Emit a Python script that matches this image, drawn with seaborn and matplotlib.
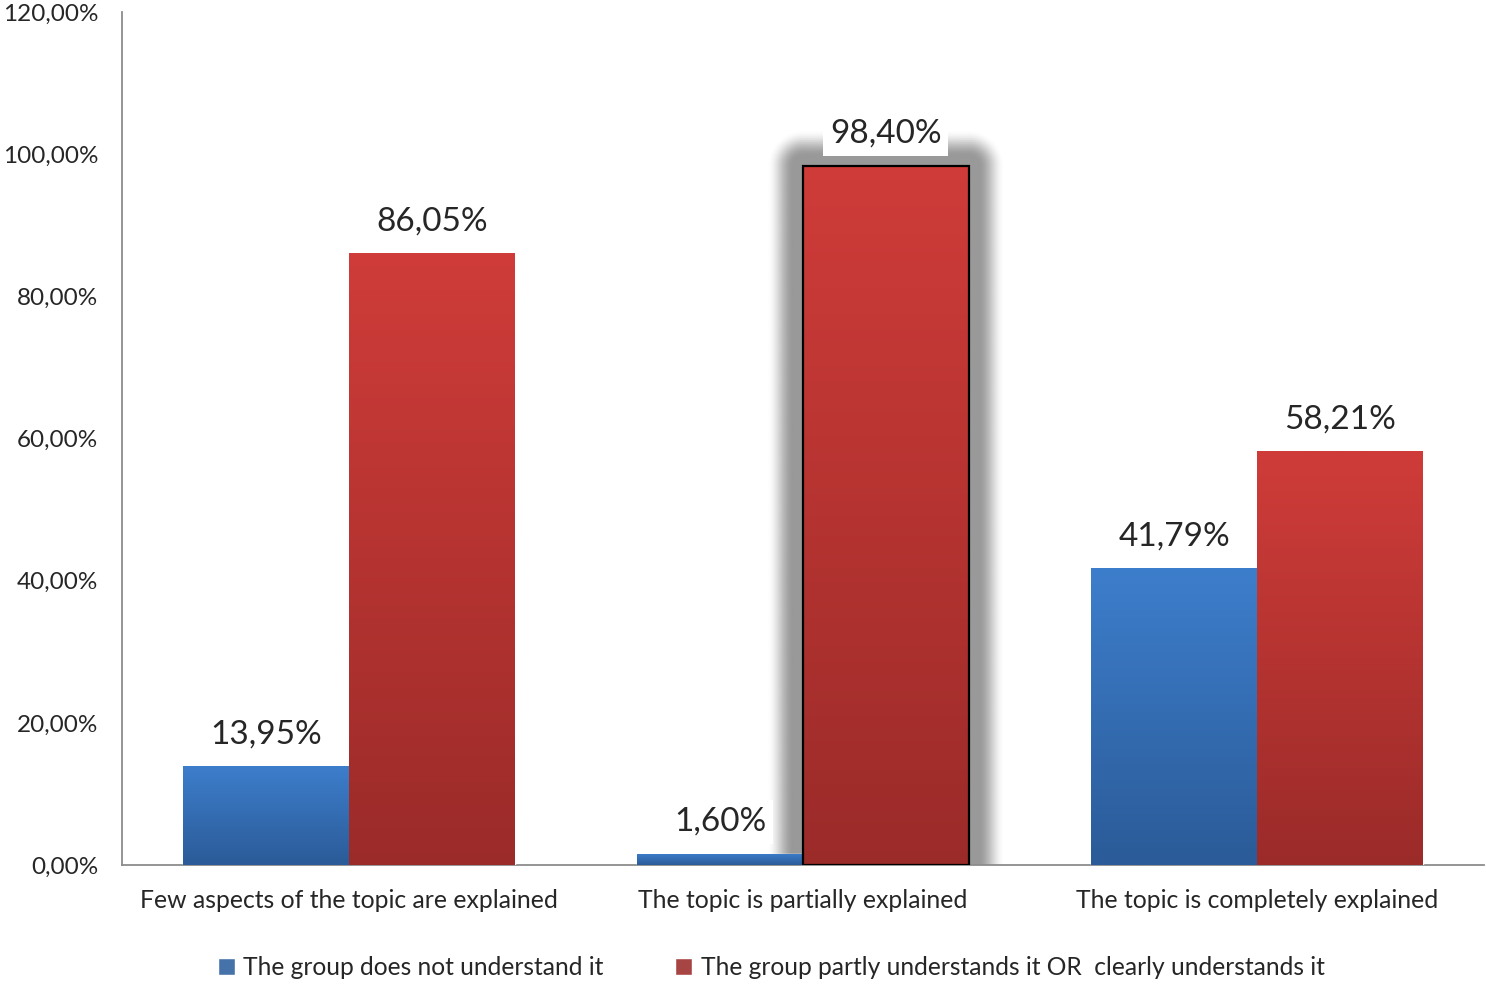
import numpy as np
import pandas as pd
import matplotlib
matplotlib.use("Agg")
import matplotlib.pyplot as plt
import seaborn as sns
from matplotlib.colors import LinearSegmentedColormap

# data
categories = ["Few aspects of the topic are explained",
              "The topic is partially explained",
              "The topic is completely explained"]
series_names = ["The group does not understand it",
                "The group partly understands it OR  clearly understands it"]
not_understand = [13.95, 1.60, 41.79]
understand = [86.05, 98.40, 58.21]
y_ticks = [0, 20, 40, 60, 80, 100, 120]
highlight = 1  # index of the bar with the glow

df = pd.DataFrame({
    "topic": categories * 2,
    "group": [series_names[0]] * 3 + [series_names[1]] * 3,
    "value": not_understand + understand,
})

sns.set_theme(style="white")
plt.rcParams['font.family'] = ['Lato', 'DejaVu Sans']

fig = plt.figure(figsize=(14.86, 9.86), dpi=100)
ax = fig.add_axes([0.0821, 0.1227, 0.9166, 0.8651])

blue_mid = "#3570bb"
red_mid = "#b83533"
sns.barplot(data=df, x="topic", y="value", hue="group", palette=[blue_mid, red_mid],
            width=0.73, gap=0, ax=ax, zorder=3, legend=True)

ax.set_xlim(-0.5, 2.5)
ax.set_ylim(0, 120)
ax.set_xlabel("")
ax.set_ylabel("")
ax.set_yticks(y_ticks)
ax.set_yticklabels([f"{t:.2f}%".replace(".", ",") for t in y_ticks], fontsize=17.5)
ax.tick_params(axis="y", length=0, pad=17)
ax.tick_params(axis="x", length=0, pad=17, labelsize=17.8)
for s in ["top", "right"]:
    ax.spines[s].set_visible(False)
for s in ["left", "bottom"]:
    ax.spines[s].set_color("#8c8c8c")
    ax.spines[s].set_linewidth(1.3)

# gradient fills
cmaps = [LinearSegmentedColormap.from_list("b", ["#2b5b98", "#3d7ecc"]),
         LinearSegmentedColormap.from_list("r", ["#9b2b29", "#cf3c39"])]
bars = [p for p in ax.patches if p.get_height() > 0]
grad = np.linspace(0, 1, 256).reshape(-1, 1)
for i, p in enumerate(bars):
    cm = cmaps[i // 3]
    x0, y0 = p.get_x(), p.get_y()
    w, h = p.get_width(), p.get_height()
    im = ax.imshow(grad, cmap=cm, origin="lower", aspect="auto",
                   extent=[x0, x0 + w, y0, y0 + h], zorder=3.5)
    im.set_clip_path(p)

# glow behind highlighted red bar
hb = bars[3 + highlight]
hb.set_facecolor("none")
hb.set_edgecolor("black")
hb.set_linewidth(1.6)
hb.set_zorder(4)
fig.canvas.draw()
sx = ax.transData.transform((1, 0))[0] - ax.transData.transform((0, 0))[0]
sy = ax.transData.transform((0, 1))[1] - ax.transData.transform((0, 0))[1]
bx0, bw, bh = hb.get_x(), hb.get_width(), hb.get_height()
blur = 36
solid = 10
gx0, gx1 = bx0 - blur / sx, bx0 + bw + blur / sx
gy1 = bh + blur / sy
nx, ny = 300, 400
xs = np.linspace(gx0, gx1, nx)
ys = np.linspace(0, gy1, ny)
X, Y = np.meshgrid(xs, ys)
dx = np.maximum(np.maximum(bx0 - X, X - (bx0 + bw)), 0) * sx
dy = np.maximum(Y - bh, 0) * sy
d = np.hypot(dx, dy)
t = np.clip(1 - (d - solid) / (blur - solid), 0, 1)
alpha = t * t * (3 - 2 * t)
rgba = np.zeros((ny, nx, 4))
rgba[..., :3] = 0.6
rgba[..., 3] = alpha
ax.imshow(rgba, origin="lower", aspect="auto", extent=[gx0, gx1, 0, gy1], zorder=2)
ax.set_xlim(-0.5, 2.5)
ax.set_ylim(0, 120)

# value labels
vals = not_understand + understand
for i, p in enumerate(bars):
    v = vals[i]
    txt = f"{v:.2f}%".replace(".", ",")
    ax.annotate(txt, (p.get_x() + p.get_width() / 2, p.get_height()),
                xytext=(0, 12), textcoords="offset points", ha="center", va="bottom",
                fontsize=24, zorder=6,
                bbox=dict(boxstyle="square,pad=0.2", fc="white", ec="none"))

# legend at the bottom
handles, labels = ax.get_legend_handles_labels()
ax.legend(handles, labels, loc="center", bbox_to_anchor=(0.519, 0.019),
          bbox_transform=fig.transFigure, ncol=2, frameon=False, fontsize=17.7,
          handlelength=0.7, handleheight=0.7, handletextpad=0.35, columnspacing=2.9)

fig.savefig("out.png", dpi=100)
